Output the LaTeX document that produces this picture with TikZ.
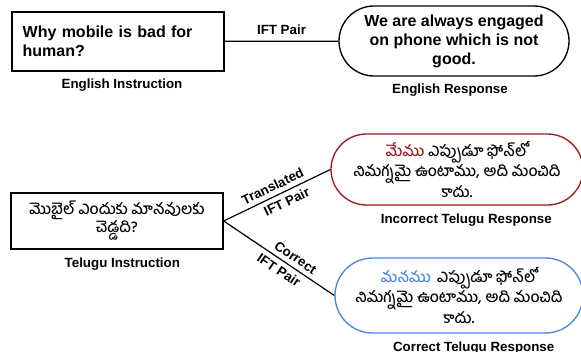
\documentclass[tikz,border=0pt]{standalone}
\usepackage{fontspec}
\setmainfont{Liberation Sans}
\newfontfamily\telugufont[Script=Telugu, UprightFont=* Medium]{Hind Guntur}
\usepackage{tikz}
\usetikzlibrary{
  positioning,
  shapes.misc
}
\definecolor{wrongred}{RGB}{160,22,28}
\definecolor{rightblue}{RGB}{74,134,232}

\begin{document}
\begin{tikzpicture}[
  x=0.75pt, y=-0.75pt,
  block/.style={draw, line width=1pt, inner sep=0pt,
                font=\bfseries\fontsize{12}{14.25}\selectfont},
  instr/.style={block, minimum width=159pt},
  resp/.style={block, rounded rectangle, align=center},
  tel/.style={font=\telugufont\fontsize{11.5}{13.5}\selectfont},
  tag/.style={font=\bfseries\fontsize{10}{12}\selectfont},
  link/.style={line width=0.9pt},
  node distance=1.5pt
]
\clip (0,0) rectangle (581,351);

% English pair
\node[instr, minimum height=44.25pt, text width=143pt, align=left] (en_q) at (118,41.5)
  {Why mobile is bad for\\human?};
\node[tag, below=1.5pt of en_q, xshift=3pt] (en_q_lbl) {English Instruction};

\node[resp, minimum width=172.5pt, minimum height=52.5pt] (en_a) at (454,41)
  {We are always engaged\\on phone which is not\\good.};
\node[tag, below=1.5pt of en_a, xshift=-3pt] (en_a_lbl) {English Response};

\draw[link] (en_q) -- (en_a) node[tag, midway, above=1pt] {IFT Pair};

% Telugu instruction
\node[instr, minimum height=42pt, align=center, tel] (te_q) at (117,221)
  {మొబైల్ ఎందుకు మానవులకు\\చెడ్డది?};
\node[tag, below=2.5pt of te_q, xshift=4pt] (te_q_lbl) {Telugu Instruction};

% Translated (incorrect) response
\node[resp, draw=wrongred, minimum width=189pt, minimum height=53.25pt, tel] (te_bad) at (457,169.5)
  {\textcolor{wrongred}{మేము} ఎప్పుడూ ఫోన్‌లో\\నిమగ్నమై ఉంటాము, అది మంచిది\\కాదు.};
\node[tag, below=2.5pt of te_bad, xshift=7pt] (te_bad_lbl) {Incorrect Telugu Response};

% Correct response
\node[resp, draw=rightblue, minimum width=186pt, minimum height=56.25pt, tel] (te_good) at (459,295.5)
  {\textcolor{rightblue}{మనము}\, ఎప్పుడూ ఫోన్‌లో\\నిమగ్నమై ఉంటాము, అది మంచిది\\కాదు.};
\node[tag, below=2.5pt of te_good, xshift=11pt] (te_good_lbl) {Correct Telugu Response};

\draw[link] (te_q.east) -- (te_bad.west)
  node[tag, pos=0.5, sloped, above=0pt] {Translated}
  node[tag, pos=0.55, sloped, below=0pt] {IFT Pair};
\draw[link] (te_q.east) -- (te_good.west)
  node[tag, pos=0.6, sloped, above=0pt] {Correct}
  node[tag, pos=0.55, sloped, below=0pt] {IFT Pair};

\end{tikzpicture}
\end{document}
